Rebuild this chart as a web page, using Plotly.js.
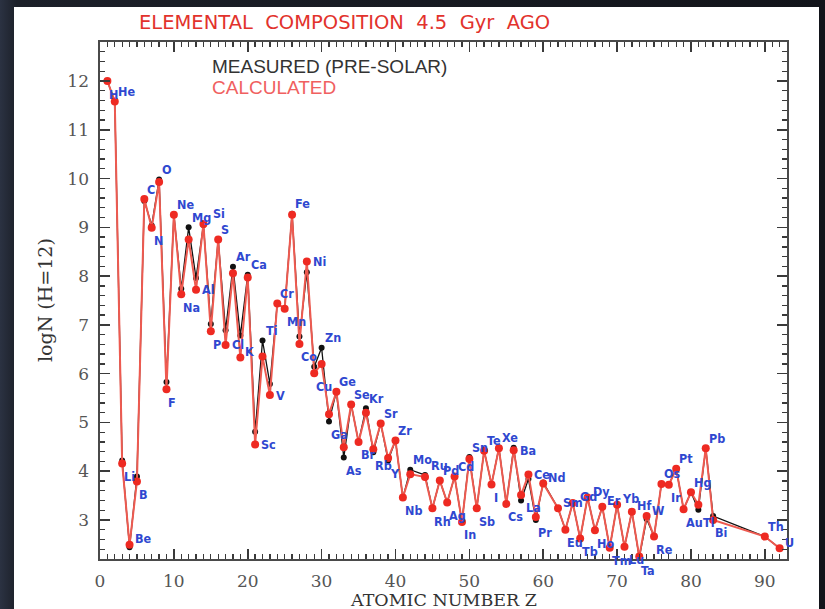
<!DOCTYPE html>
<html>
<head>
<meta charset="utf-8">
<script src="https://cdn.plot.ly/plotly-3.0.1.min.js"></script>
<style>
  html, body { margin: 0; padding: 0; width: 825px; height: 609px; overflow: hidden;
    background: linear-gradient(90deg, #2b3242 0%, #1c2029 2%, #12141a 100%); }
  #chart { position: absolute; left: 14px; top: 7px; width: 805px; height: 602px; background: #ffffff; }
</style>
</head>
<body>
<div id="chart"></div>
<script>
// ---- data ----
const Z = [1,2,3,4,5,6,7,8,9,10,11,12,13,14,15,16,17,18,19,20,21,22,23,24,25,26,27,28,29,30,
  31,32,33,34,35,36,37,38,39,40,41,42,44,45,46,47,48,49,50,51,52,53,54,55,56,57,58,59,60,
  62,63,64,65,66,67,68,69,70,71,72,73,74,75,76,77,78,79,80,81,82,83,90,92];
const symbols = ["H","He","Li","Be","B","C","N","O","F","Ne","Na","Mg","Al","Si","P","S","Cl","Ar","K","Ca",
  "Sc","Ti","V","Cr","Mn","Fe","Co","Ni","Cu","Zn","Ga","Ge","As","Se","Br","Kr","Rb","Sr","Y","Zr",
  "Nb","Mo","Ru","Rh","Pd","Ag","Cd","In","Sn","Sb","Te","I","Xe","Cs","Ba","La","Ce","Pr","Nd",
  "Sm","Eu","Gd","Tb","Dy","Ho","Er","Tm","Yb","Lu","Hf","Ta","W","Re","Os","Ir","Pt","Au","Hg","Tl","Pb","Bi","Th","U"];
const calculated = [12.00,11.58,4.16,2.49,3.79,9.58,8.99,9.93,5.68,9.26,7.63,8.75,7.72,9.07,6.87,8.75,6.59,8.06,6.33,7.97,
  4.55,6.35,5.56,7.44,7.33,9.26,6.61,8.30,6.01,6.20,5.17,5.63,4.49,5.37,4.60,5.20,4.45,4.98,4.27,4.63,
  3.46,3.94,3.88,3.24,3.81,3.36,3.89,2.96,4.25,3.24,4.42,3.73,4.47,3.33,4.43,3.51,3.93,3.06,3.75,
  3.24,2.80,3.35,2.62,3.46,2.79,3.27,2.43,3.31,2.45,3.17,2.25,3.08,2.66,3.74,3.72,4.05,3.22,3.57,3.31,4.47,3.00,2.66,2.42];
const measured = [12.00,11.58,4.22,2.44,3.89,9.54,9.04,9.98,5.83,9.26,7.74,9.00,7.96,9.05,7.02,8.75,6.89,8.19,6.78,8.03,
  4.81,6.68,5.79,7.44,7.33,9.28,6.76,8.08,6.14,6.53,5.02,5.63,4.28,5.37,4.60,5.29,4.39,4.98,4.22,4.63,
  3.46,4.03,3.92,3.24,3.81,3.36,3.89,2.96,4.29,3.24,4.42,3.73,4.48,3.33,4.48,3.40,3.84,3.00,3.77,
  3.24,2.80,3.35,2.62,3.46,2.79,3.27,2.43,3.31,2.45,3.17,2.23,3.02,2.66,3.74,3.72,4.05,3.22,3.57,3.21,4.47,3.08,2.66,2.42];
// label placement code for each element (style only)
const labelPlace = ["lr","ur","lr","ru","lr","ur","lr","ur","lr","ur","lr","ur","r","urr","lr","ur","r","ur","ru","ur",
  "r","ur","r","ur","lr","ur","lr","r","lr","ur","lr","ur","lr","ur","lr","ur","lr","ur","lr","ur",
  "lr","ur","urx","lr","ur","lr","ur","lr","ur","lr","ur","lr","ur","lr","r","rl","r","lr","ru",
  "ru","lr","rur","lr","ru","lr","ru","lr","ru","lrr","ru","lr","ru","lr","ur","lr","ur","lr","ur","lrr","ur","lr","ur","ru"];

const titleText = "ELEMENTAL  COMPOSITION  4.5  Gyr  AGO";
const legendMeasured = "MEASURED (PRE-SOLAR)";
const legendCalculated = "CALCULATED";
const xTitle = "ATOMIC NUMBER Z";
const yTitle = "logN (H=12)";

// ---- geometry helpers (page pixels -> paper coords) ----
const W = 805, H = 602, ML = 86, MR = 32, MT = 35, MB = 50, OX = 14, OY = 7;
const PW = W - ML - MR, PH = H - MT - MB;
const px = x => (x - OX - ML) / PW;
const py = y => (H - MB - (y - OY)) / PH;

const shifts = {
  ur: {xs: 1, ys: 10, ref: "max"},
  urx:{xs: 4, ys: 10, ref: "max"},
  urr:{xs: 8, ys: 10, ref: "max"},
  ru: {xs: 3, ys: 6, ref: "calc"},
  rur:{xs: 5, ys: 6, ref: "calc"},
  r:  {xs: 4, ys: 0, ref: "calc"},
  rl: {xs: 3, ys: -7, ref: "min"},
  lr: {xs: 0, ys: -13, ref: "min"},
  lrr:{xs: 3, ys: -13, ref: "min"}
};

const blue = "#2f48d0";
const labelAnns = Z.map((z, i) => {
  const s = shifts[labelPlace[i]];
  const yv = s.ref === "max" ? Math.max(calculated[i], measured[i])
           : s.ref === "min" ? Math.min(calculated[i], measured[i]) : calculated[i];
  return {
    x: z, y: yv, xref: "x", yref: "y", text: "<b>" + symbols[i] + "</b>",
    showarrow: false, xanchor: "left", yanchor: "middle", xshift: s.xs, yshift: s.ys,
    font: {family: "DejaVu Sans Condensed, sans-serif", size: 12.5, color: blue}
  };
});

const textAnns = [
  {text: titleText, x: px(344), y: py(22), xanchor: "center", yanchor: "middle",
   font: {family: "DejaVu Sans, sans-serif", size: 19.5, color: "#e2322c"}},
  {text: legendMeasured, x: px(210), y: py(67), xanchor: "left", yanchor: "middle",
   font: {family: "Liberation Sans, Arial, sans-serif", size: 19, color: "#333333"}},
  {text: legendCalculated, x: px(210), y: py(87), xanchor: "left", yanchor: "middle",
   font: {family: "Liberation Sans, Arial, sans-serif", size: 19, color: "#f06060"}},
  {text: xTitle, x: px(443), y: py(600), xanchor: "center", yanchor: "middle",
   font: {family: "DejaVu Serif, serif", size: 17.5, color: "#333333"}},
  {text: yTitle, x: px(45), y: py(300), xanchor: "center", yanchor: "middle", textangle: -90,
   font: {family: "DejaVu Serif, serif", size: 19, color: "#333333"}}
].map(a => Object.assign({xref: "paper", yref: "paper", showarrow: false}, a));

const traces = [
  {x: Z, y: measured, type: "scatter", mode: "lines+markers", name: "measured",
   line: {color: "#111111", width: 1.3}, marker: {color: "#111111", size: 6}, hoverinfo: "skip"},
  {x: Z, y: calculated, type: "scatter", mode: "lines+markers", name: "calculated",
   line: {color: "#ee5a50", width: 2}, marker: {color: "#ee2a22", size: 8}, hoverinfo: "skip"}
];

const tickCol = "#3a3a3a";
const axisCommon = {
  showgrid: false, zeroline: false, showline: true, linecolor: "#4a4a4a", linewidth: 1.6,
  mirror: "ticks", ticks: "inside", tickcolor: tickCol, tickwidth: 1.6, ticklen: 10,
  tickfont: {family: "DejaVu Serif, serif", size: 17, color: "#555555"}, ticklabelstandoff: 6
};

const layout = {
  width: W, height: H, margin: {l: ML, r: MR, t: MT, b: MB},
  paper_bgcolor: "#ffffff", plot_bgcolor: "#ffffff", showlegend: false,
  xaxis: Object.assign({}, axisCommon, {range: [0, 93], tick0: 0, dtick: 10,
    minor: {dtick: 1, ticks: "inside", ticklen: 5, tickcolor: tickCol, tickwidth: 1.3}}),
  yaxis: Object.assign({}, axisCommon, {range: [2.2, 12.8], tick0: 0, dtick: 1,
    minor: {dtick: 0.2, ticks: "inside", ticklen: 5, tickcolor: tickCol, tickwidth: 1.3}}),
  annotations: labelAnns.concat(textAnns)
};

Plotly.newPlot("chart", traces, layout, {displayModeBar: false, staticPlot: true});
</script>
</body>
</html>
